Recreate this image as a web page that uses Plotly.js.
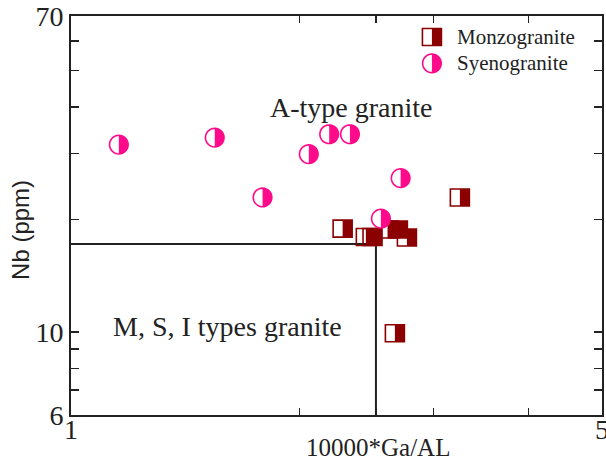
<!DOCTYPE html>
<html>
<head>
<meta charset="utf-8">
<script src="https://cdn.plot.ly/plotly-3.0.1.min.js"></script>
<style>
  html, body { margin: 0; padding: 0; background: #fff; }
  #chart { width: 606px; height: 463px; }
</style>
</head>
<body>
<div id="chart"></div>
<script>
// ---- Data ----
const monzoGaAl = [2.278, 2.444, 2.494, 2.621, 2.693, 2.768, 3.250, 2.669];
const monzoNb   = [18.9, 17.95, 17.95, 18.8, 18.8, 17.9, 22.9, 9.93];

const syenoGaAl = [1.156, 1.546, 2.187, 2.329, 2.056, 2.716, 1.787, 2.558];
const syenoNb   = [31.7, 33.1, 33.8, 33.8, 29.9, 25.8, 22.9, 20.1];

// discrimination boundary
const boundaryGaAl = 2.52;
const boundaryNb = 17.2;
const boundaryLineX = [1, boundaryGaAl, boundaryGaAl];
const boundaryLineY = [boundaryNb, boundaryNb, 6];

const xTickVals = [1, 2, 2.52, 3, 4, 5];
const xTickText = ['1', '', '', '', '', '5'];
const yTickVals = [6, 7, 8, 9, 10, 20, 30, 40, 50, 60, 70];
const yTickText = ['6', '', '', '', '10', '', '', '', '', '', '70'];

const seriesNames = ['Monzogranite', 'Syenogranite'];
const fieldLabels = ['A-type granite', 'M, S, I types granite'];
const axisTitles = ['10000*Ga/AL', 'Nb (ppm)'];

// ---- Styling ----
const MONZO_COL = '#8b0000';
const SYENO_COL = '#ff0a8a';
const AXIS_COL = '#222222';
const SQ_W = 9.5, SQ_H = 8.5, R = 9.3;

function rectPath(xa, xb, h) {
  return 'M' + xa + ',' + (-h) + ' L' + xb + ',' + (-h) + ' L' + xb + ',' + h + ' L' + xa + ',' + h + ' Z';
}
function arcPath(r, a0, a1) {
  let p = '';
  const n = 32;
  for (let i = 0; i <= n; i++) {
    const a = a0 + (a1 - a0) * i / n;
    p += (i === 0 ? 'M' : 'L') + (r * Math.cos(a)).toFixed(2) + ',' + (r * Math.sin(a)).toFixed(2) + ' ';
  }
  return p + 'Z';
}

function squareShapes(x, y, xref, yref) {
  const base = {type: 'path', xref: xref, yref: yref, xsizemode: 'pixel', ysizemode: 'pixel',
                xanchor: x, yanchor: y};
  return [
    Object.assign({}, base, {path: rectPath(-SQ_W, SQ_W, SQ_H), fillcolor: 'rgba(255,255,255,0)',
                             line: {color: MONZO_COL, width: 1.6}}),
    Object.assign({}, base, {path: rectPath(0, SQ_W, SQ_H), fillcolor: MONZO_COL, line: {width: 0}})
  ];
}

function circleShapes(x, y, xref, yref) {
  const base = {type: 'path', xref: xref, yref: yref, xsizemode: 'pixel', ysizemode: 'pixel',
                xanchor: x, yanchor: y};
  return [
    Object.assign({}, base, {path: arcPath(R, 0, 2 * Math.PI), fillcolor: '#ffffff',
                             line: {color: SYENO_COL, width: 1.6}}),
    Object.assign({}, base, {path: arcPath(R, -Math.PI / 2, Math.PI / 2),
                             fillcolor: SYENO_COL, line: {width: 0}})
  ];
}

const shapes = [];
monzoGaAl.forEach((x, i) => shapes.push(...squareShapes(x, monzoNb[i], 'x', 'y')));
syenoGaAl.forEach((x, i) => shapes.push(...circleShapes(x, syenoNb[i], 'x', 'y')));

// legend markers (paper coordinates)
const legX = 0.6797, legY = [0.9473, 0.8813];
shapes.push(...squareShapes(legX, legY[0], 'paper', 'paper'));
shapes.push(...circleShapes(legX, legY[1], 'paper', 'paper'));

const traces = [
  {x: boundaryLineX, y: boundaryLineY, mode: 'lines', type: 'scatter',
   line: {color: AXIS_COL, width: 2}, showlegend: false, hoverinfo: 'skip'},
  {x: monzoGaAl, y: monzoNb, mode: 'markers', type: 'scatter', name: seriesNames[0],
   marker: {size: 1, opacity: 0}, showlegend: false},
  {x: syenoGaAl, y: syenoNb, mode: 'markers', type: 'scatter', name: seriesNames[1],
   marker: {size: 1, opacity: 0}, showlegend: false}
];

const serif = "'Liberation Serif', 'Times New Roman', serif";
const sans = "'Liberation Sans', Arial, sans-serif";

const layout = {
  width: 606, height: 463,
  margin: {l: 71, r: 4, t: 16, b: 48, pad: 0},
  paper_bgcolor: '#ffffff', plot_bgcolor: '#ffffff',
  showlegend: false,
  xaxis: {
    type: 'log', range: [0, Math.log10(5)],
    tickvals: xTickVals, ticktext: xTickText,
    ticks: 'inside', ticklen: 7, tickwidth: 1.5, tickcolor: AXIS_COL,
    showline: true, linecolor: AXIS_COL, linewidth: 2, mirror: 'ticks',
    showgrid: false, zeroline: false,
    ticklabeloverflow: 'allow', ticklabelstandoff: -12,
    tickfont: {family: serif, size: 28, color: AXIS_COL}
  },
  yaxis: {
    type: 'log', range: [Math.log10(6), Math.log10(70)],
    tickvals: yTickVals, ticktext: yTickText,
    ticks: 'inside', ticklen: 8, tickwidth: 1.5, tickcolor: AXIS_COL,
    showline: true, linecolor: AXIS_COL, linewidth: 2, mirror: 'ticks',
    showgrid: false, zeroline: false,
    ticklabeloverflow: 'allow',
    tickfont: {family: serif, size: 28, color: AXIS_COL}
  },
  shapes: shapes,
  annotations: [
    {text: fieldLabels[0], xref: 'paper', yref: 'paper', x: 0.529, y: 0.7716,
     xanchor: 'center', yanchor: 'middle', showarrow: false,
     font: {family: serif, size: 28, color: AXIS_COL}},
    {text: fieldLabels[1], xref: 'paper', yref: 'paper', x: 0.2953, y: 0.2226,
     xanchor: 'center', yanchor: 'middle', showarrow: false,
     font: {family: serif, size: 28, color: AXIS_COL}},
    {text: seriesNames[0], xref: 'paper', yref: 'paper', x: 0.723, y: legY[0],
     xanchor: 'left', yanchor: 'middle', showarrow: false,
     font: {family: serif, size: 21, color: AXIS_COL}},
    {text: seriesNames[1], xref: 'paper', yref: 'paper', x: 0.723, y: legY[1],
     xanchor: 'left', yanchor: 'middle', showarrow: false,
     font: {family: serif, size: 21, color: AXIS_COL}},
    {text: axisTitles[0], xref: 'paper', yref: 'paper', x: 0.578, y: -0.0816,
     xanchor: 'center', yanchor: 'middle', showarrow: false,
     font: {family: serif, size: 25, color: AXIS_COL}},
    {text: axisTitles[1], xref: 'paper', yref: 'paper', x: -0.0948, y: 0.463,
     xanchor: 'center', yanchor: 'middle', showarrow: false, textangle: -90,
     font: {family: sans, size: 24, color: AXIS_COL}}
  ]
};

Plotly.newPlot('chart', traces, layout, {staticPlot: true, displayModeBar: false});
</script>
</body>
</html>
